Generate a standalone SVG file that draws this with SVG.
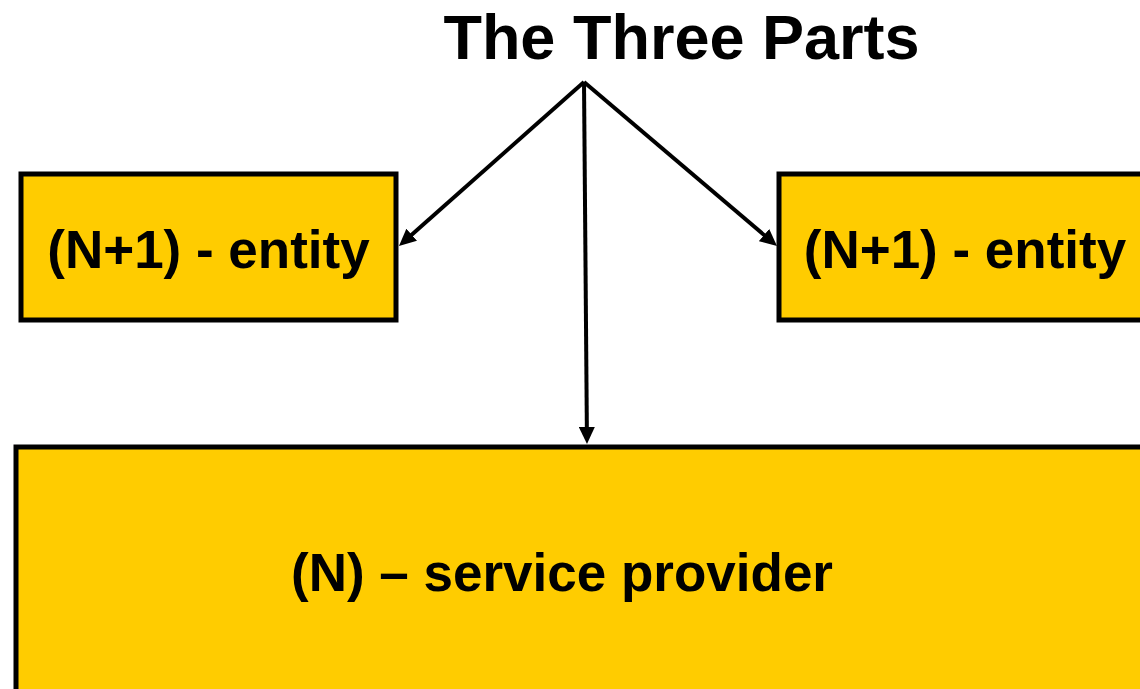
<svg xmlns="http://www.w3.org/2000/svg" width="1140" height="689" viewBox="0 0 1140 689">
<style>
.box{fill:#FFCC00;stroke:#000;stroke-width:5}
.lbl{font-family:"Liberation Sans",Arial,sans-serif;font-weight:bold;fill:#000;text-anchor:middle}
.conn{stroke:#000;stroke-width:4;fill:none}
</style>
<defs>
<marker id="ah" markerUnits="userSpaceOnUse" markerWidth="17" markerHeight="16" viewBox="0 0 17 16" refX="6" refY="8" orient="auto">
<path d="M0,0 L17,8 L0,16 z" fill="#000"/>
</marker>
</defs>
<rect width="1140" height="689" fill="#fff"/>
<g id="title">
<text class="lbl" x="681.5" y="59" font-size="63">The Three Parts</text>
</g>
<g id="entity-left">
<rect class="box" x="21" y="174" width="375" height="146"/>
<text class="lbl" x="208.5" y="268" font-size="53">(N+1) - entity</text>
</g>
<g id="entity-right">
<rect class="box" x="779" y="174" width="375" height="146"/>
<text class="lbl" x="965" y="268" font-size="53">(N+1) - entity</text>
</g>
<g id="service-provider">
<rect class="box" x="16" y="447" width="1135" height="260"/>
<text class="lbl" x="562" y="591" font-size="53">(N) – service provider</text>
</g>
<g id="connectors">
<line class="conn" x1="584" y1="82" x2="407.2" y2="238.7" marker-end="url(#ah)"/>
<line class="conn" x1="584" y1="82" x2="768.6" y2="238.9" marker-end="url(#ah)"/>
<line class="conn" x1="584" y1="82" x2="586.9" y2="433" marker-end="url(#ah)"/>
</g>
</svg>
